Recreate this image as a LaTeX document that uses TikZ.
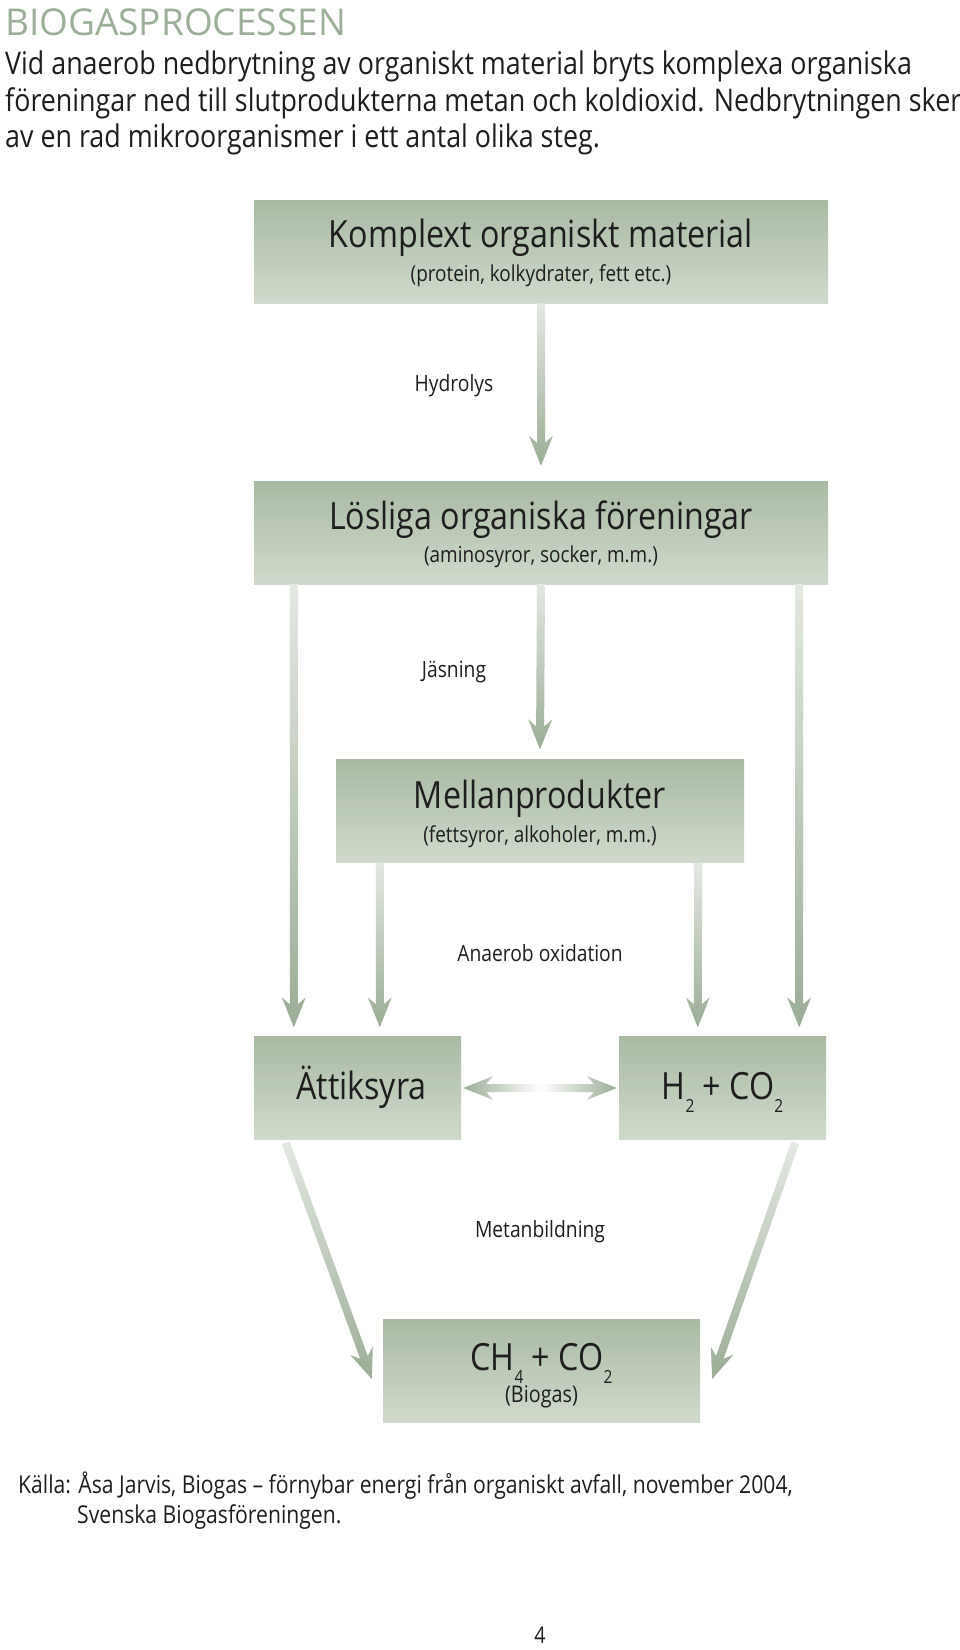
\documentclass[tikz,border=0pt]{standalone}
\usepackage{fontspec}
\setmainfont{Open Sans}[FakeStretch=0.86]
\newfontfamily\widefont{Open Sans}
\usetikzlibrary{calc}

\definecolor{arrowgreen}{HTML}{9BAD96}
\definecolor{boxtop}{HTML}{A9BAA4}
\definecolor{boxbot}{HTML}{D0DACC}
\definecolor{headgreen}{HTML}{9CB099}
\definecolor{inktext}{HTML}{1E1E1E}

\newcommand\lowsub[1]{\raisebox{-13pt}{\fontsize{18}{18}\selectfont #1}}

% one-way arrow, shaft 8pt, head 24pt x 30pt
\newcommand\flowarrow[2]{%
  \shade[flowshade] let \p1=(#1), \p2=(#2), \n1={atan2(\y2-\y1,\x2-\x1)} in
    ($(\p1)+(\n1+90:4pt)$) -- ($(\p2)+(\n1:-23pt)+(\n1+90:4pt)$)
    -- ($(\p2)+(\n1:-30pt)+(\n1+90:12pt)$) -- (\p2)
    -- ($(\p2)+(\n1:-30pt)+(\n1-90:12pt)$) -- ($(\p2)+(\n1:-23pt)+(\n1-90:4pt)$)
    -- ($(\p1)+(\n1-90:4pt)$) -- cycle;}

% two-way arrow
\newcommand\twowayarrow[2]{%
  \shade[twoshade] let \p1=(#1), \p2=(#2), \n1={atan2(\y2-\y1,\x2-\x1)} in
    (\p1) -- ($(\p1)+(\n1:30pt)+(\n1+90:12pt)$) -- ($(\p1)+(\n1:23pt)+(\n1+90:4pt)$)
    -- ($(\p2)+(\n1:-23pt)+(\n1+90:4pt)$) -- ($(\p2)+(\n1:-30pt)+(\n1+90:12pt)$)
    -- (\p2)
    -- ($(\p2)+(\n1:-30pt)+(\n1-90:12pt)$) -- ($(\p2)+(\n1:-23pt)+(\n1-90:4pt)$)
    -- ($(\p1)+(\n1:23pt)+(\n1-90:4pt)$) -- ($(\p1)+(\n1:30pt)+(\n1-90:12pt)$)
    -- cycle;}

\tikzset{
  box/.style={rectangle, inner sep=0pt, top color=boxtop, bottom color=boxbot,
    minimum height=103pt},
  boxhead/.style={anchor=base, inner sep=0pt, font=\fontsize{37.5}{41}\selectfont},
  boxsub/.style={anchor=base, inner sep=0pt, font=\fontsize{22}{26}\selectfont},
  steplabel/.style={inner sep=0pt, font=\fontsize{22.4}{26}\selectfont},
  para/.style={anchor=base west, inner sep=0pt, font=\fontsize{31.2}{36}\selectfont},
  source/.style={anchor=base west, inner sep=0pt, font=\fontsize{24.6}{28}\selectfont},
  flowshade/.style={top color=arrowgreen!28!white, bottom color=arrowgreen},
  twoshade/.style={left color=arrowgreen, right color=arrowgreen, middle color=white},
}

\begin{document}
\begin{tikzpicture}[x=1pt, y=-1pt, text=inktext]
  \useasboundingbox[fill=white] (0,0) rectangle (960,1650);

  % heading and intro
  \node[anchor=base west, inner sep=0pt, text=headgreen, font=\widefont\fontsize{37}{40}\selectfont] (title) at (5,35) {BIOGASPROCESSEN};
  \node[para] (intro1) at (5,74) {Vid anaerob nedbrytning av organiskt material bryts komplexa organiska};
  \node[para] (intro2) at (5,111) {föreningar ned till slutprodukterna metan och koldioxid. Nedbrytningen sker};
  \node[para] (intro3) at (5,147) {av en rad mikroorganismer i ett antal olika steg.};

  % boxes
  \node[box, minimum width=574pt] (komplext) at (541,251.5) {};
  \node[box, minimum width=574pt] (losliga) at (541,532.5) {};
  \node[box, minimum width=408pt] (mellan) at (540,811) {};
  \node[box, minimum width=207pt] (attik) at (357.5,1088) {};
  \node[box, minimum width=207pt] (vatgas) at (722.5,1088) {};
  \node[box, minimum width=317pt] (biogas) at (541.5,1370.5) {};

  \node[boxhead] (komplext-t) at ([yshift=-48pt]komplext.north) {Komplext organiskt material};
  \node[boxsub] (komplext-s) at ([yshift=-82pt]komplext.north) {(protein, kolkydrater, fett etc.)};
  \node[boxhead] (losliga-t) at ([yshift=-49pt]losliga.north) {Lösliga organiska föreningar};
  \node[boxsub] (losliga-s) at ([yshift=-82pt]losliga.north) {(aminosyror, socker, m.m.)};
  \node[boxhead] (mellan-t) at ([yshift=-49pt]mellan.north) {Mellanprodukter};
  \node[boxsub] (mellan-s) at ([yshift=-83pt]mellan.north) {(fettsyror, alkoholer, m.m.)};
  \node[boxhead] (attik-t) at ([xshift=4pt,yshift=-63pt]attik.north) {Ättiksyra};
  \node[boxhead] (vatgas-t) at ([yshift=-63pt]vatgas.north) {H\lowsub{2} + CO\lowsub{2}};
  \node[boxhead] (biogas-t) at ([yshift=-52pt]biogas.north) {CH\lowsub{4} + CO\lowsub{2}};
  \node[boxsub, font=\fontsize{23}{27}\selectfont] (biogas-s) at ([yshift=-84pt]biogas.north) {(Biogas)};

  % arrows
  \flowarrow{komplext.south}{[yshift=15pt]losliga.north}
  \flowarrow{losliga.south}{[yshift=10pt]mellan.north}
  \flowarrow{[xshift=40pt]losliga.south west}{[xshift=40pt,yshift=9pt]attik.north west}
  \flowarrow{[xshift=-29pt]losliga.south east}{[xshift=-27pt,yshift=9pt]vatgas.north east}
  \flowarrow{[xshift=44pt]mellan.south west}{[xshift=126pt,yshift=9pt]attik.north west}
  \flowarrow{[xshift=-46pt]mellan.south east}{[xshift=79pt,yshift=9pt]vatgas.north west}
  \twowayarrow{[xshift=2pt]attik.east}{[xshift=-2pt]vatgas.west}
  \flowarrow{[xshift=32pt,yshift=-3pt]attik.south west}{[xshift=-11pt,yshift=-8.5pt]biogas.west}
  \flowarrow{[xshift=-31pt,yshift=-3pt]vatgas.south east}{[xshift=12pt,yshift=-8.5pt]biogas.east}

  % step labels
  \node[steplabel] (hydrolys) at (454,386) {Hydrolys};
  \node[steplabel] (jasning) at (454,672) {Jäsning};
  \node[steplabel] (oxidation) at (540,953) {Anaerob oxidation};
  \node[steplabel] (metan) at (540,1232) {Metanbildning};

  % source and page number
  \node[source] (kalla1) at (18,1493) {Källa: Åsa Jarvis, Biogas – förnybar energi från organiskt avfall, november 2004,};
  \node[source] (kalla2) at (77,1523) {Svenska Biogasföreningen.};
  \node[inner sep=0pt, font=\fontsize{23}{27}\selectfont] (sida) at (540,1635) {4};
\end{tikzpicture}
\end{document}
